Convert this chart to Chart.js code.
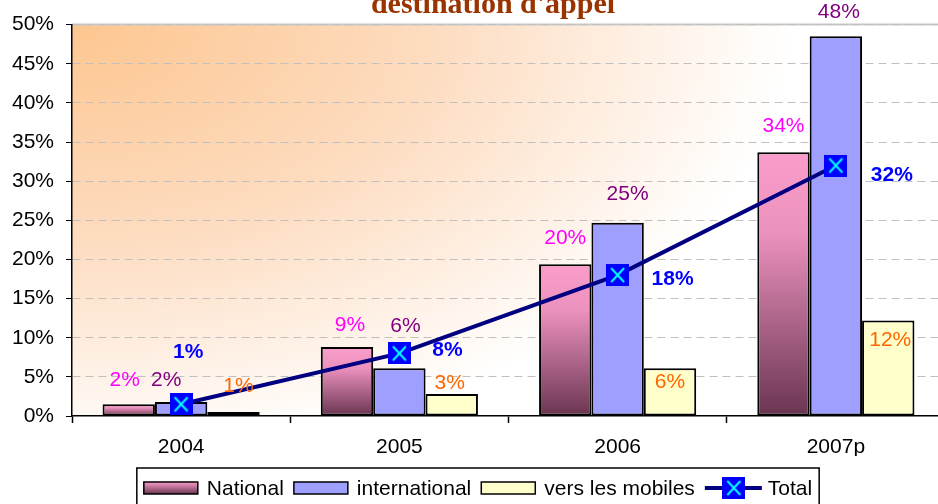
<!DOCTYPE html>
<html>
<head>
<meta charset="utf-8">
<script src="https://cdn.jsdelivr.net/npm/chart.js@4/dist/chart.umd.min.js"></script>
<style>
  html, body { margin: 0; padding: 0; overflow: hidden; background: #fff; }
  #wrap { width: 960px; height: 504px; }
</style>
</head>
<body>
<div id="wrap"><canvas id="chart" width="960" height="504"></canvas></div>
<script>
const years = ['2004', '2005', '2006', '2007p'];
const national = [1.5, 8.8, 19.4, 33.7];
const international = [1.8, 6.1, 24.7, 48.5];
const mobiles = [0.5, 2.8, 6.1, 12.2];
const total = [1.5, 8.0, 18.0, 32.0];

const nationalLabels = ['2%', '9%', '20%', '34%'];
const internationalLabels = ['2%', '6%', '25%', '48%'];
const mobilesLabels = ['1%', '3%', '6%', '12%'];
const totalLabels = ['1%', '8%', '18%', '32%'];

// label nudges (px) from the top of each mark, like the hand-placed labels in the original
const labelNudge = {
  0: { dx: [-4, 3, 0, 0], dy: [-24, -22, -26, -26] },
  1: { dx: [-15, 6, 10, 3], dy: [-22, -42, -28, -24] },
  2: { dx: [5, -2, 0, 2], dy: [-26, -11, 14, 20] },
  3: { dx: [7, 48, 55, 56], dy: [-52, -3, 4, 10] }
};

const FONT = '"Liberation Sans", Arial, sans-serif';

// marker: blue square with a cyan cross
const marker = document.createElement('canvas');
marker.width = 23;
marker.height = 22;
const m = marker.getContext('2d');
m.fillStyle = '#0000ff';
m.fillRect(0, 0, 23, 22);
m.strokeStyle = '#00ffff';
m.lineWidth = 2;
m.beginPath();
m.moveTo(5, 4); m.lineTo(18, 18);
m.moveTo(18, 4); m.lineTo(5, 18);
m.stroke();

const nationalFill = (ctx) => {
  const chart = ctx.chart;
  if (ctx.dataIndex === undefined || !chart.chartArea) return '#f49ac6';
  const y = chart.scales.y;
  const top = y.getPixelForValue(ctx.raw);
  const bottom = y.getPixelForValue(0);
  const g = chart.ctx.createLinearGradient(0, top, 0, bottom);
  g.addColorStop(0, '#fa9dca');
  g.addColorStop(0.3, '#ec92bf');
  g.addColorStop(1, '#6a3550');
  return g;
};

const plotBackground = {
  id: 'plotBackground',
  beforeDraw(chart) {
    const { ctx, chartArea: a } = chart;
    ctx.save();
    ctx.beginPath();
    ctx.rect(a.left, a.top, a.right - a.left, a.bottom - a.top);
    ctx.clip();
    ctx.translate(a.left, a.top);
    ctx.scale(1, 0.6);
    const g = ctx.createRadialGradient(0, 0, 0, 0, 0, 720);
    g.addColorStop(0, '#fdc690');
    g.addColorStop(0.5, '#fddcc0');
    g.addColorStop(1, '#ffffff');
    ctx.fillStyle = g;
    ctx.fillRect(0, 0, 2000, 2000);
    ctx.restore();
    ctx.save();
    ctx.strokeStyle = '#c8c8c8';
    ctx.lineWidth = 2;
    ctx.beginPath();
    ctx.moveTo(a.left, a.top);
    ctx.lineTo(a.right, a.top);
    ctx.stroke();
    ctx.restore();
  }
};

const titleText = {
  id: 'titleText',
  afterDraw(chart) {
    const ctx = chart.ctx;
    ctx.save();
    ctx.fillStyle = '#993300';
    ctx.font = 'bold 30px "Liberation Serif", "Times New Roman", serif';
    ctx.textAlign = 'center';
    ctx.textBaseline = 'alphabetic';
    ctx.fillText("destination d'appel", 493, 13);
    ctx.restore();
  }
};

const valueLabels = {
  id: 'valueLabels',
  afterDatasetsDraw(chart) {
    const ctx = chart.ctx;
    const sets = [
      { labels: nationalLabels, color: '#ff00ff', bold: false },
      { labels: internationalLabels, color: '#800080', bold: false },
      { labels: mobilesLabels, color: '#ff6600', bold: false },
      { labels: totalLabels, color: '#0000ff', bold: true }
    ];
    ctx.save();
    ctx.textAlign = 'center';
    ctx.textBaseline = 'middle';
    sets.forEach((s, di) => {
      const meta = chart.getDatasetMeta(di);
      ctx.fillStyle = s.color;
      ctx.font = (s.bold ? 'bold ' : '') + '21px ' + FONT;
      meta.data.forEach((el, i) => {
        const n = labelNudge[di];
        ctx.fillText(s.labels[i], el.x + n.dx[i], el.y + n.dy[i]);
      });
    });
    ctx.restore();
  }
};

const legendBox = {
  id: 'legendBox',
  afterDraw(chart) {
    const ctx = chart.ctx;
    ctx.save();
    ctx.font = '21px ' + FONT;
    const items = chart.data.datasets.map(ds => ({ text: ds.label, ds }));
    const swatchW = 54, gap = 9, after = 10, pad = 7;
    let width = pad;
    items.forEach(it => { it.w = swatchW + gap + ctx.measureText(it.text).width + after; width += it.w; });
    width += pad - after;
    const top = 468, cy = 488;
    let x = 478 - width / 2;
    ctx.fillStyle = '#ffffff';
    ctx.fillRect(x, top, width, 60);
    ctx.strokeStyle = '#000000';
    ctx.lineWidth = 1.5;
    ctx.strokeRect(x, top, width, 60);
    x += pad;
    items.forEach((it, i) => {
      if (it.ds.type === 'line') {
        ctx.strokeStyle = '#000080';
        ctx.lineWidth = 4;
        ctx.beginPath();
        ctx.moveTo(x, cy);
        ctx.lineTo(x + swatchW + 3, cy);
        ctx.stroke();
        ctx.drawImage(marker, x + (swatchW + 3) / 2 - 11, cy - 11);
      } else {
        let fill = it.ds.backgroundColor;
        if (i === 0) {
          fill = ctx.createLinearGradient(0, cy - 6, 0, cy + 6);
          fill.addColorStop(0, '#fa9dca');
          fill.addColorStop(1, '#6a3550');
        }
        ctx.fillStyle = fill;
        ctx.fillRect(x, cy - 6, swatchW, 12);
        ctx.strokeStyle = '#000000';
        ctx.lineWidth = 1.5;
        ctx.strokeRect(x, cy - 6, swatchW, 12);
      }
      ctx.fillStyle = '#000000';
      ctx.textBaseline = 'middle';
      ctx.textAlign = 'left';
      ctx.fillText(it.text, x + swatchW + gap, cy + 1);
      x += it.w;
    });
    ctx.restore();
  }
};

const barCommon = {
  borderColor: '#000000',
  borderWidth: 2,
  borderSkipped: false,
  categoryPercentage: 0.72,
  barPercentage: 1.0,
  order: 2
};

new Chart(document.getElementById('chart').getContext('2d'), {
  type: 'bar',
  data: {
    labels: years,
    datasets: [
      Object.assign({ label: 'National', data: national, backgroundColor: nationalFill }, barCommon),
      Object.assign({ label: 'international', data: international, backgroundColor: '#9f9fff' }, barCommon),
      Object.assign({ label: 'vers les mobiles', data: mobiles, backgroundColor: '#ffffcc' }, barCommon),
      {
        type: 'line',
        label: 'Total',
        data: total,
        borderColor: '#000080',
        borderWidth: 4,
        pointStyle: marker,
        pointRadius: 11,
        fill: false,
        tension: 0,
        order: 1
      }
    ]
  },
  options: {
    responsive: false,
    animation: false,
    layout: { padding: { top: 24, right: 4, bottom: 48, left: 0 } },
    plugins: {
      legend: { display: false },
      tooltip: { enabled: false },
      title: { display: false }
    },
    scales: {
      x: {
        offset: true,
        grid: { offset: true, drawOnChartArea: false, tickLength: 7, tickColor: '#000000', tickWidth: 1.5 },
        border: { color: '#000000', width: 1.5 },
        ticks: { color: '#000000', font: { size: 21, family: FONT }, padding: 12 },
        afterFit: (s) => { s.height = 40; }
      },
      y: {
        min: 0,
        max: 50,
        ticks: {
          stepSize: 5,
          color: '#000000',
          font: { size: 21, family: FONT },
          padding: 12,
          callback: v => v + '%'
        },
        grid: {
          color: c => (c.tick && c.tick.value === 0) ? 'rgba(0,0,0,0)' : '#c0c0c0',
          lineWidth: 1,
          tickColor: '#000000',
          tickLength: 6
        },
        border: { color: '#000000', width: 1.5, dash: [8, 5] },
        afterFit: (s) => { s.width = 72; }
      }
    }
  },
  plugins: [plotBackground, valueLabels, titleText, legendBox]
});
</script>
</body>
</html>
